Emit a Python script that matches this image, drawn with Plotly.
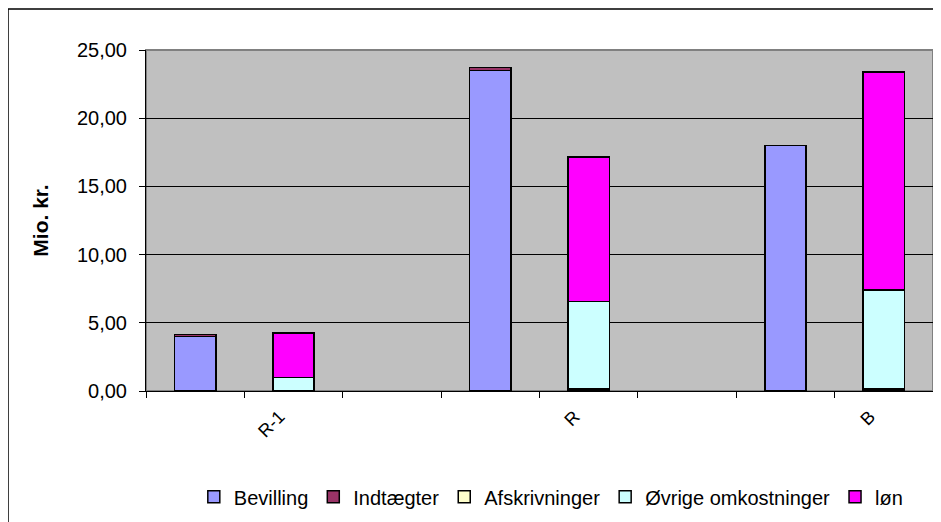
import plotly.graph_objects as go

# Category slots (two bars per period, empty slot between periods)
slots = [" ", "R-1", "  ", "   ", "R", "    ", "     ", "B"]

bevilling = [4.0, None, None, 23.5, None, None, 18.0, None]
indtaegter = [0.15, None, None, 0.2, None, None, None, None]
afskrivninger = [None, None, None, None, 0.15, None, None, 0.15]
ovrige = [None, 1.0, None, None, 6.4, None, None, 7.25]
lon = [None, 3.25, None, None, 10.6, None, None, 16.0]

series = [
    ("Bevilling", bevilling, "#9999FF"),
    ("Indtægter", indtaegter, "#993366"),
    ("Afskrivninger", afskrivninger, "#FFFFCC"),
    ("Øvrige omkostninger", ovrige, "#CCFFFF"),
    ("løn", lon, "#FF00FF"),
]

font_family = "Liberation Sans, Arial, sans-serif"

fig = go.Figure()
for name, vals, col in series:
    fig.add_trace(go.Bar(
        name=name, x=slots, y=vals,
        marker=dict(color=col, line=dict(color="black", width=1.5)),
    ))

L, R, T, B = 138, 16, 42, 139
W, H = 941, 522
pw, ph = W - L - R, H - T - B

fig.update_layout(
    width=W, height=H,
    barmode="stack", bargap=0.58,
    paper_bgcolor="white", plot_bgcolor="#C0C0C0",
    margin=dict(l=L, r=R, t=T, b=B),
    separators=",.",
    font=dict(family=font_family, size=20, color="black"),
    showlegend=True,
    legend=dict(orientation="h", x=0.515, xanchor="center", y=-0.31, yanchor="middle",
                font=dict(size=20), traceorder="normal", itemwidth=30,
                bgcolor="rgba(0,0,0,0)"),
    xaxis=dict(type="category", tickson="boundaries", ticks="outside", ticklen=6,
               tickcolor="black", tickangle=-45, showline=True, linecolor="black",
               linewidth=1, showgrid=False, tickfont=dict(size=18), range=[-0.5, 7.5],
               ticklabelshift=-14, ticklabelstandoff=7),
    yaxis=dict(range=[0, 25], dtick=5, tickformat=".2f", ticks="outside", ticklen=6,
               tickcolor="black", showline=True, linecolor="black", linewidth=1,
               showgrid=True, gridcolor="black", gridwidth=1, zeroline=False,
               tickfont=dict(size=20), ticklabelstandoff=8,
               title=dict(text="<b>Mio. kr.</b>", font=dict(size=21), standoff=22)),
    shapes=[
        dict(type="rect", xref="paper", yref="paper", x0=0, x1=1, y0=0, y1=1,
             line=dict(color="#808080", width=2), layer="below"),
        dict(type="rect", xref="paper", yref="paper",
             x0=-L / pw, x1=1 + R / pw + 0.05, y0=-B / ph - 0.1, y1=1 + (T - 1) / ph,
             line=dict(color="black", width=1.5), fillcolor="rgba(0,0,0,0)"),
    ],
)

fig.write_html("out.html")
